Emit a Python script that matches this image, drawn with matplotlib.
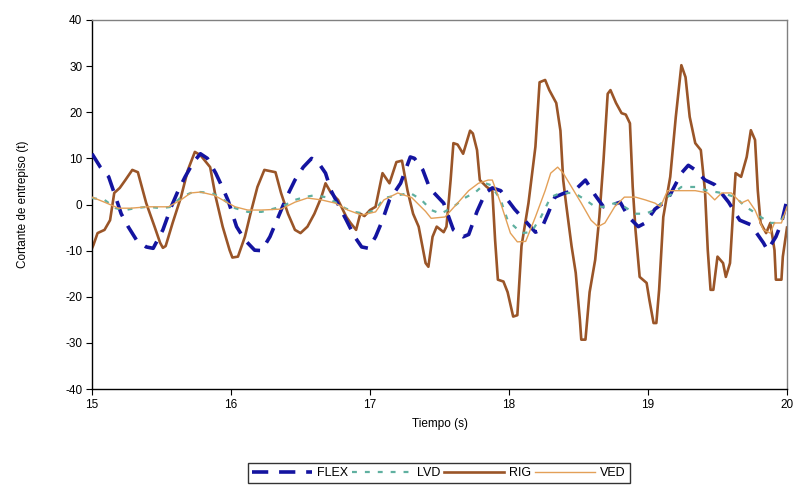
import matplotlib
matplotlib.use("Agg")
import matplotlib.pyplot as plt

plt.rcParams['font.family'] = ['Liberation Sans', 'DejaVu Sans']
plt.rcParams['axes.unicode_minus'] = False

# ---- data ----
flex_t = [15.00, 15.06, 15.12, 15.17, 15.21, 15.26, 15.32, 15.39, 15.44, 15.51, 15.57, 15.62,
          15.67, 15.73, 15.78, 15.83, 15.89, 15.94, 15.98, 16.04, 16.10, 16.17, 16.22, 16.28,
          16.34, 16.40, 16.46, 16.52, 16.58, 16.63, 16.68, 16.72, 16.78, 16.83, 16.89, 16.94,
          16.99, 17.04, 17.09, 17.14, 17.22, 17.29, 17.32, 17.38, 17.43, 17.53, 17.60, 17.67,
          17.71, 17.77, 17.83, 17.88, 17.94, 17.99, 18.04, 18.10, 18.19, 18.23, 18.28, 18.33,
          18.40, 18.47, 18.55, 18.62, 18.68, 18.75, 18.80, 18.86, 18.93, 18.98, 19.05, 19.14,
          19.24, 19.29, 19.34, 19.41, 19.48, 19.58, 19.66, 19.74, 19.83, 19.86, 19.92, 19.96, 20.00]
flex_v = [11.0, 8.1, 6.0, 1.6, -2.0, -4.8, -7.7, -9.2, -9.5, -5.5, -0.5, 3.0,
          6.0, 9.2, 11.0, 10.0, 6.8, 3.6, 0.8, -4.8, -7.7, -9.9, -10.0, -7.0,
          -2.7, 1.6, 5.3, 8.1, 10.0, 9.0, 6.8, 3.0, -0.5, -3.4, -7.0, -9.2,
          -9.5, -7.0, -3.4, 1.0, 4.6, 10.3, 10.0, 7.5, 3.5, 0.3, -5.5, -7.0,
          -6.5, -1.5, 2.5, 3.6, 3.0, 1.0, -1.0, -3.0, -6.0, -5.5, -2.0, 1.6,
          2.5, 3.0, 5.3, 2.0, -0.5, 0.0, 0.5, -2.7, -4.8, -4.0, -1.0, 1.0,
          6.8, 8.5, 7.5, 5.3, 4.3, 0.5, -3.4, -4.4, -8.3, -9.9, -7.0, -4.0, 1.0]

lvd_t = [15.00, 15.09, 15.17, 15.24, 15.31, 15.40, 15.50, 15.57, 15.64, 15.71, 15.78, 15.86,
         15.93, 16.03, 16.12, 16.22, 16.32, 16.39, 16.46, 16.53, 16.60, 16.68, 16.75, 16.82,
         16.89, 16.96, 17.04, 17.10, 17.20, 17.29, 17.37, 17.44, 17.51, 17.60, 17.68, 17.76,
         17.83, 17.87, 17.94, 17.99, 18.09, 18.16, 18.23, 18.30, 18.37, 18.47, 18.55, 18.62,
         18.69, 18.76, 18.83, 18.91, 18.98, 19.05, 19.14, 19.24, 19.34, 19.43, 19.53, 19.63,
         19.70, 19.74, 19.81, 19.88, 19.95, 20.00]
lvd_v = [1.4, 1.0, -0.8, -1.2, -0.8, -0.5, -0.8, -0.5, 1.6, 2.5, 2.7, 2.5,
         1.4, -0.8, -1.6, -1.6, -0.8, -0.1, 1.0, 1.6, 2.0, 1.6, 0.5, -0.8,
         -1.6, -2.0, -1.2, 1.4, 2.0, 2.5, 1.0, -1.2, -2.0, -0.5, 1.4, 2.7,
         4.6, 4.2, 1.0, -3.4, -6.2, -6.0, -2.7, 1.6, 2.5, 2.5, 1.0, -0.5,
         -0.5, 0.3, -0.5, -2.0, -2.0, -1.2, 1.6, 3.8, 3.8, 3.0, 2.5, 1.6,
         -0.5, -1.2, -2.7, -4.0, -4.0, -1.2]

rig_t = [15.00, 15.01, 15.04, 15.09, 15.13, 15.16, 15.20, 15.24, 15.29, 15.33, 15.39, 15.45,
         15.49, 15.51, 15.53, 15.58, 15.64, 15.69, 15.74, 15.78, 15.85, 15.89, 15.94, 15.99,
         16.01, 16.05, 16.10, 16.14, 16.19, 16.24, 16.32, 16.36, 16.41, 16.46, 16.50, 16.55,
         16.60, 16.65, 16.68, 16.72, 16.77, 16.83, 16.86, 16.90, 16.93, 16.96, 17.00, 17.04,
         17.09, 17.14, 17.19, 17.23, 17.27, 17.31, 17.35, 17.40, 17.42, 17.45, 17.48, 17.53,
         17.55, 17.58, 17.60, 17.63, 17.67, 17.72, 17.74, 17.77, 17.79, 17.84, 17.88, 17.90,
         17.92, 17.96, 17.99, 18.03, 18.06, 18.09, 18.14, 18.19, 18.22, 18.26, 18.29, 18.34,
         18.37, 18.39, 18.41, 18.45, 18.48, 18.51, 18.52, 18.55, 18.58, 18.62, 18.65, 18.68,
         18.71, 18.73, 18.77, 18.81, 18.84, 18.87, 18.89, 18.91, 18.94, 18.99, 19.01, 19.04,
         19.06, 19.08, 19.11, 19.16, 19.20, 19.24, 19.27, 19.30, 19.34, 19.38, 19.41, 19.43,
         19.45, 19.47, 19.50, 19.54, 19.56, 19.59, 19.61, 19.63, 19.67, 19.71, 19.74, 19.77,
         19.79, 19.81, 19.85, 19.88, 19.91, 19.92, 19.96, 19.97, 20.00]
rig_v = [-9.5, -8.8, -6.2, -5.5, -3.4, 2.5, 3.6, 5.3, 7.5, 7.0, 0.3, -4.8,
         -8.3, -9.4, -9.0, -4.0, 1.6, 7.5, 11.4, 10.7, 8.1, 1.6, -4.8, -9.9,
         -11.5, -11.3, -7.0, -2.0, 3.8, 7.5, 7.0, 2.5, -2.0, -5.5, -6.2, -4.8,
         -2.0, 1.6, 4.6, 2.5, 1.0, -2.7, -4.0, -5.5, -2.0, -2.5, -1.2, -0.5,
         6.8, 4.6, 9.2, 9.5, 3.0, -2.0, -4.8, -12.7, -13.5, -7.0, -4.8, -6.0,
         -4.8, 5.3, 13.3, 13.0, 11.0, 16.0, 15.4, 11.8, 5.3, 3.8, 3.0, -7.7,
         -16.3, -16.7, -19.0, -24.3, -24.0, -9.0, 0.3, 12.5, 26.5, 27.0, 24.8, 22.0,
         16.0, 5.3, 0.3, -9.0, -14.8, -25.0, -29.3, -29.3, -19.0, -12.0, -2.7, 9.6,
         24.0, 24.8, 22.0, 19.8, 19.5, 17.6, 3.8, -5.5, -15.7, -17.0, -20.7, -25.7,
         -25.7, -18.5, -2.7, 6.0, 19.0, 30.2, 27.6, 19.0, 13.3, 11.8, 3.0, -9.9,
         -18.5, -18.5, -11.3, -12.7, -15.7, -12.7, -2.7, 6.8, 6.0, 10.3, 16.1, 14.0,
         3.0, -4.0, -6.2, -4.0, -9.9, -16.3, -16.3, -11.3, -5.0]

ved_t = [15.00, 15.09, 15.19, 15.28, 15.40, 15.55, 15.64, 15.71, 15.78, 15.88, 15.98, 16.03,
         16.12, 16.22, 16.36, 16.46, 16.55, 16.65, 16.75, 16.84, 16.94, 17.04, 17.10, 17.20,
         17.30, 17.40, 17.44, 17.54, 17.63, 17.71, 17.78, 17.85, 17.88, 17.94, 18.01, 18.06,
         18.12, 18.19, 18.26, 18.30, 18.35, 18.39, 18.45, 18.52, 18.59, 18.64, 18.69, 18.76,
         18.83, 18.91, 18.98, 19.05, 19.09, 19.14, 19.24, 19.34, 19.43, 19.48, 19.53, 19.60,
         19.67, 19.72, 19.77, 19.83, 19.88, 19.91, 19.96, 20.00]
ved_v = [1.6, 0.5, -0.8, -0.8, -0.5, -0.5, 1.0, 2.5, 2.7, 2.0, 0.3, -0.5,
         -1.2, -1.2, -1.0, 0.5, 1.4, 1.0, 0.3, -1.2, -2.3, -1.6, 1.0, 2.5,
         1.5, -1.5, -3.0, -2.7, 0.3, 3.0, 4.6, 5.3, 5.3, 0.3, -6.2, -8.1,
         -8.0, -2.7, 3.0, 6.8, 8.1, 6.8, 3.8, 0.3, -3.4, -4.8, -4.0, -0.5,
         1.6, 1.6, 1.0, 0.3, -0.5, 3.0, 3.0, 3.0, 2.5, 1.0, 2.5, 2.5,
         0.3, 1.0, -1.2, -5.5, -6.2, -4.0, -4.0, -0.5]

x_ticks = [15, 16, 17, 18, 19, 20]
y_ticks = [-40, -30, -20, -10, 0, 10, 20, 30, 40]

# ---- figure ----
fig = plt.figure(figsize=(7.97, 4.97), dpi=100)
ax = fig.add_axes([92/797, 1-389/497, (787-92)/797, (389-20)/497])

l_flex, = ax.plot(flex_t, flex_v, color='#1414a0', lw=2.6, label='FLEX')
l_flex.set_dashes((4.5, 3.0))
l_lvd, = ax.plot(lvd_t, lvd_v, color='#5fb0a0', lw=1.6, label='LVD')
l_lvd.set_dashes((2.2, 3.6))
l_rig, = ax.plot(rig_t, rig_v, color='#9a5528', lw=1.9, label='RIG')
l_ved, = ax.plot(ved_t, ved_v, color='#e3a058', lw=1.0, label='VED')

l_rig.set_zorder(2)
l_flex.set_zorder(3)
l_lvd.set_zorder(4)
l_ved.set_zorder(5)

ax.set_xlim(15, 20)
ax.set_ylim(-40, 40)
ax.set_xticks(x_ticks)
ax.set_yticks(y_ticks)
ax.tick_params(axis='both', direction='out', length=4, width=0.8, labelsize=8.5, pad=3)

for s in ['left', 'bottom']:
    ax.spines[s].set_color('black')
    ax.spines[s].set_linewidth(1.0)
for s in ['top', 'right']:
    ax.spines[s].set_color('#808080')
    ax.spines[s].set_linewidth(1.0)

ax.set_xlabel('Tiempo (s)', fontsize=8.5, labelpad=5)
ax.set_ylabel('Cortante de entrepiso (t)', fontsize=8.5, labelpad=26)

leg = fig.legend(handles=[l_flex, l_lvd, l_rig, l_ved], loc='center',
                 bbox_to_anchor=(439/797, 1-473/497), ncol=4, fontsize=9,
                 frameon=True, fancybox=False, edgecolor='black',
                 handlelength=4.8, handletextpad=0.4, columnspacing=0.3,
                 borderpad=0.35, borderaxespad=0.0)
leg.get_frame().set_linewidth(1.0)

fig.savefig('out.png', dpi=100)
